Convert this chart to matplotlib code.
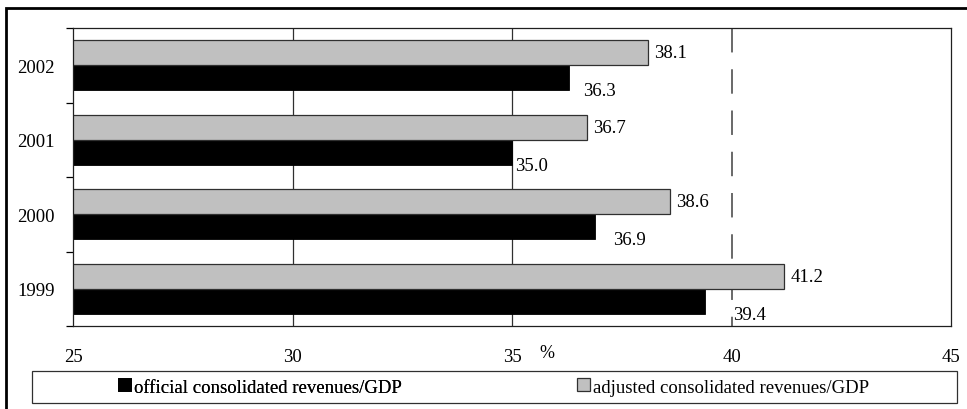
import numpy as np
import matplotlib.pyplot as plt
from matplotlib.patches import Rectangle

plt.rcParams['font.family'] = ['Liberation Serif', 'DejaVu Serif']

years = ['1999', '2000', '2001', '2002']
official = [39.4, 36.9, 35.0, 36.3]
adjusted = [41.2, 38.6, 36.7, 38.1]
x_ticks = [25, 30, 35, 40, 45]
# hand placed label shifts (pixels) as in the original
official_dx = [28, 18, 3, 14]

W, H = 967, 410
fs = 13.5
fig = plt.figure(figsize=(W / 100, H / 100), dpi=100)
fig.patch.set_facecolor('white')

# outer frame
fig.patches.append(Rectangle((6 / W, -0.1), 1.2, (H - 9) / H + 0.1, transform=fig.transFigure,
                             fill=False, edgecolor='black', linewidth=2.0, zorder=0))

ax = fig.add_axes([73 / W, (H - 327) / H, (951 - 73) / W, (327 - 29) / H])
y = np.arange(len(years))
bh = 0.335
top, bot = len(years) - 0.5, -0.5

for x in [30, 35]:
    ax.axvline(x, color='#303030', linewidth=0.9, zorder=0)
ax.plot([40, 40], [top, bot], color='#404040', linewidth=1.1, dashes=(16, 11), zorder=0)

b_off = ax.barh(y - bh / 2, official, height=bh, left=0, color='black', edgecolor='black',
                linewidth=0.6, label='official consolidated revenues/GDP', zorder=2)
b_adj = ax.barh(y + bh / 2, adjusted, height=bh, left=0, color='#c0c0c0', edgecolor='#303030',
                linewidth=0.9, label='adjusted consolidated revenues/GDP', zorder=2)

for i in range(len(years)):
    ax.annotate(f'{adjusted[i]:.1f}', xy=(adjusted[i], y[i] + bh / 2), xytext=(6, 0),
                textcoords='offset pixels', va='center', ha='left', fontsize=fs)
    ax.annotate(f'{official[i]:.1f}', xy=(official[i], y[i] - bh / 2), xytext=(official_dx[i], -13),
                textcoords='offset pixels', va='center', ha='left', fontsize=fs)

ax.set_xlim(25, 45)
ax.set_ylim(bot, top)
ax.set_xticks(x_ticks)
ax.set_xticklabels([str(v) for v in x_ticks], fontsize=fs)
ax.tick_params(axis='x', length=0, pad=16)
ax.set_yticks(y)
ax.set_yticklabels(years, fontsize=fs)
ax.set_yticks(np.arange(len(years) + 1) - 0.5, minor=True)
ax.tick_params(axis='y', which='major', length=0, pad=13)
ax.tick_params(axis='y', which='minor', length=5, width=0.9, direction='out')
for s in ax.spines.values():
    s.set_linewidth(0.9)
    s.set_color('#202020')

ax.annotate('%', xy=(35.8, 0), xycoords=('data', 'axes fraction'), xytext=(0, -27),
            textcoords='offset pixels', ha='center', va='center', fontsize=fs - 0.5)

# legend box
fig.patches.append(Rectangle((32 / W, (H - 404) / H), (957 - 32) / W, 32 / H,
                             transform=fig.transFigure, fill=False, edgecolor='#303030',
                             linewidth=0.9))
common = dict(frameon=False, fontsize=fs, handlelength=0.68, handleheight=0.68,
              handletextpad=0.15, borderpad=0, borderaxespad=0, loc='center left')
l1 = fig.legend(handles=[b_off], bbox_to_anchor=(118 / W, (H - 388) / H), **common)
fig.add_artist(l1)
fig.legend(handles=[b_adj], bbox_to_anchor=(577 / W, (H - 388) / H), **common)

fig.savefig('out.png', dpi=100)
